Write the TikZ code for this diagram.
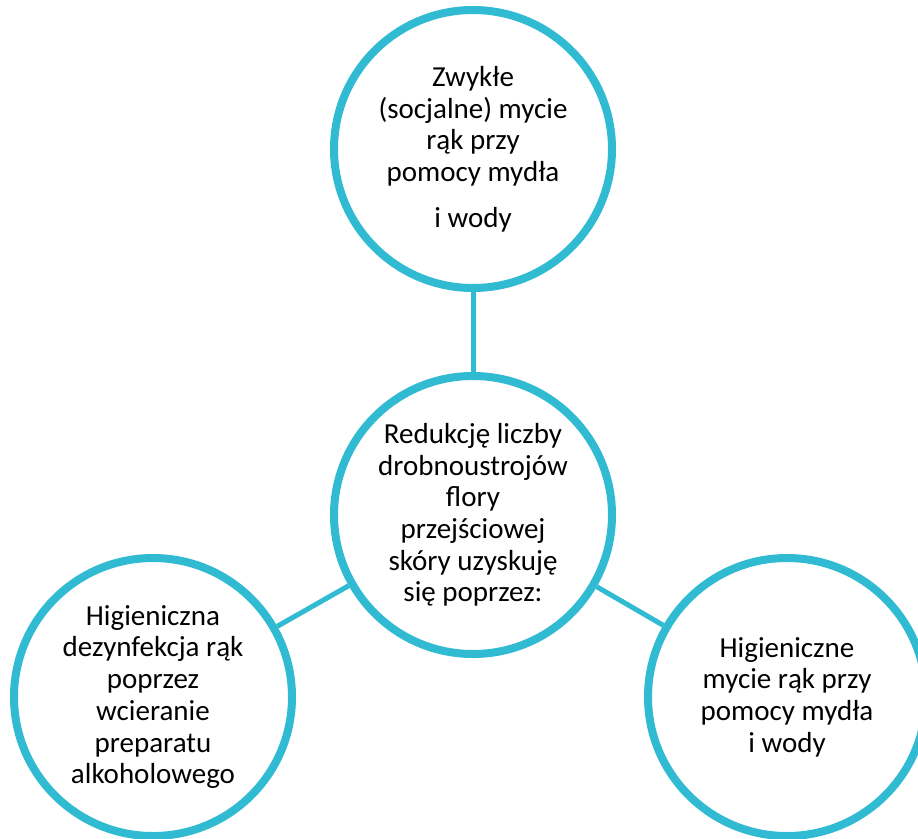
\documentclass[tikz,border=0pt]{standalone}
\usepackage{fontspec}
\setmainfont{Carlito}
\usepackage{tikz}
\usetikzlibrary{shadows}
\definecolor{turkus}{RGB}{49,187,211}

\begin{document}
\begin{tikzpicture}[x=1pt, y=-1pt,
		node_style/.style={circle,draw=turkus,line width=8pt,fill=white,minimum size=278pt,inner sep=0pt,align=center,
			font=\fontsize{29pt}{31.7pt}\selectfont,
			drop shadow={shadow xshift=0pt,shadow yshift=-3pt,opacity=0.15}},
		edge_style/.style={draw=turkus,line width=5pt}]
		
		\useasboundingbox (0,0) rectangle (918,838);
		
		\node[node_style] (top) at (473,149)  {Zwykłe\\(socjalne) mycie\\rąk przy\\pomocy mydła\\[14pt]i wody};
		\node[node_style] (mid) at (473,515)  {Redukcję liczby\\drobnoustrojów\\flory\\przejściowej\\skóry uzyskuję\\się poprzez:};
		\node[node_style] (left) at (153,697)  {Higieniczna\\dezynfekcja rąk\\poprzez\\wcieranie\\preparatu\\alkoholowego};
		\node[node_style] (right) at (787,697)  {Higieniczne\\mycie rąk przy\\pomocy mydła\\i wody};
		
		\draw[edge_style]  (top) edge (mid);
		\draw[edge_style]  (mid) edge (left);
		\draw[edge_style]  (mid) edge (right);
		
		\end{tikzpicture}
\end{document}
